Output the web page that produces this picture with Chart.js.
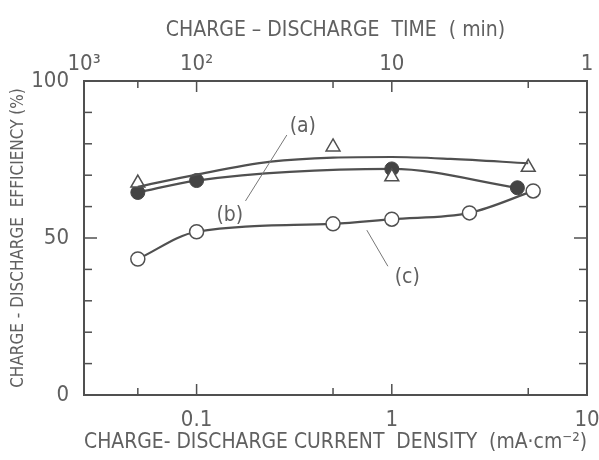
<!DOCTYPE html>
<html>
<head>
<meta charset="utf-8">
<script src="https://cdn.jsdelivr.net/npm/chart.js@4.4.0/dist/chart.umd.min.js"></script>
<style>
  html, body { margin: 0; padding: 0; background: #fff; }
  #wrap { width: 599px; height: 460px; }
</style>
</head>
<body>
<div id="wrap"><canvas id="grafica"></canvas></div>
<script>
// Valores

// eje inferior: densidad de corriente (mA/cm2)
const currentTicks = [0.05, 0.1, 0.5, 1, 5, 10];
const currentLabels = ['', '0.1', '', '1', '', '10'];
// eje superior: tiempo de carga-descarga (min), en posiciones de la escala de corriente
const timeTickAt = [0.0265, 0.1, 1, 10];
const timeLabels = ['10³', '10²', '10', '1'];
// eje y: eficiencia (%)
const effTicks = [0, 10, 20, 30, 40, 50, 60, 70, 80, 90, 100];
const effLabels = ['0', '', '', '', '', '50', '', '', '', '', '100'];

// (a) triángulos y su curva
const triCurrent = [0.05, 0.5, 1, 5];
const triEff = [67.5, 79, 69.5, 72.5];
const curveACurrent = [0.05, 0.1, 0.24, 0.5, 1, 2, 5];
const curveAEff = [66.3, 70.2, 74.3, 75.6, 75.8, 75.2, 73.8];

// (b) círculos rellenos
const filledCurrent = [0.05, 0.1, 1, 4.4];
const filledEff = [64.5, 68.3, 72, 66];

// (c) círculos abiertos
const openCurrent = [0.05, 0.1, 0.5, 1, 2.5, 5.3];
const openEff = [43.3, 52, 54.5, 56, 58, 65];

const pares = (xs, ys) => xs.map((x, i) => ({ x: x, y: ys[i] }));

const fam = "'DejaVu Sans Condensed', 'DejaVu Sans', sans-serif";
const gris = '#505050';
const textoGris = '#606060';

// marco, marcas hacia dentro y etiquetas (a) (b) (c)
const marcoPlugin = {
    id: 'marco',
    afterDraw(chart) {
        const { ctx, chartArea: a, scales } = chart;
        const sx = scales.x, sy = scales.y;
        ctx.save();
        ctx.strokeStyle = gris;
        ctx.lineWidth = 2;
        ctx.strokeRect(a.left, a.top, a.right - a.left, a.bottom - a.top);

        ctx.lineWidth = 1.5;
        const linea = (x1, y1, x2, y2) => {
            ctx.beginPath(); ctx.moveTo(x1, y1); ctx.lineTo(x2, y2); ctx.stroke();
        };
        currentTicks.forEach((v, i) => {
            const x = sx.getPixelForValue(v);
            const len = currentLabels[i] ? 11 : 7;
            linea(x, a.bottom, x, a.bottom - len);
            linea(x, a.top, x, a.top + len);
        });
        effTicks.forEach((v, i) => {
            const y = sy.getPixelForValue(v);
            const len = effLabels[i] ? 13 : 8;
            linea(a.left, y, a.left + len, y);
            linea(a.right, y, a.right - len, y);
        });

        // etiquetas de curvas con líneas guía
        ctx.lineWidth = 1;
        ctx.strokeStyle = '#777';
        const P = (cx, cy) => [sx.getPixelForValue(cx), sy.getPixelForValue(cy)];
        let p1 = P(0.29, 82.8), p2 = P(0.178, 61.8);
        linea(p1[0], p1[1], p2[0], p2[1]);
        p1 = P(0.745, 52.5); p2 = P(0.955, 41);
        linea(p1[0], p1[1], p2[0], p2[1]);

        ctx.fillStyle = textoGris;
        ctx.font = '21px ' + fam;
        ctx.textAlign = 'center';
        ctx.textBaseline = 'middle';
        let t = P(0.35, 85.4); ctx.fillText('(a)', t[0], t[1]);
        t = P(0.148, 57); ctx.fillText('(b)', t[0], t[1]);
        t = P(1.2, 37.3); ctx.fillText('(c)', t[0], t[1]);
        ctx.restore();
    }
};

const sinRelleno = (s) => { s.paddingLeft = 0; s.paddingRight = 0; };

const ctx1 = document.getElementById('grafica').getContext('2d');
const myChart1 = new Chart(ctx1, {
    type: 'scatter',
    data: {
        datasets: [
            {
                label: '(a) curva',
                data: pares(curveACurrent, curveAEff),
                showLine: true,
                borderColor: gris,
                borderWidth: 2.2,
                pointRadius: 0,
                cubicInterpolationMode: 'monotone',
                fill: false
            },
            {
                label: '(a)',
                data: pares(triCurrent, triEff),
                pointStyle: 'triangle',
                pointRadius: 8,
                pointBorderWidth: 1.5,
                pointBorderColor: gris,
                pointBackgroundColor: '#fff'
            },
            {
                label: '(b)',
                data: pares(filledCurrent, filledEff),
                showLine: true,
                borderColor: gris,
                borderWidth: 2.2,
                cubicInterpolationMode: 'monotone',
                pointRadius: 7,
                pointBorderWidth: 1,
                pointBorderColor: '#444',
                pointBackgroundColor: '#444'
            },
            {
                label: '(c)',
                data: pares(openCurrent, openEff),
                showLine: true,
                borderColor: gris,
                borderWidth: 2.2,
                cubicInterpolationMode: 'monotone',
                pointRadius: 7,
                pointBorderWidth: 1.5,
                pointBorderColor: gris,
                pointBackgroundColor: '#fff'
            }
        ]
    },
    options: {
        responsive: true,
        maintainAspectRatio: false,
        animation: false,
        layout: { padding: { left: 0, right: 12, top: 0, bottom: 0 } },
        plugins: {
            legend: { display: false },
            tooltip: { enabled: false }
        },
        scales: {
            x: {
                type: 'logarithmic',
                position: 'bottom',
                min: 0.0265,
                max: 10,
                grid: { display: false },
                border: { display: false },
                afterBuildTicks: (s) => { s.ticks = currentTicks.map(v => ({ value: v })); },
                afterFit: (s) => { s.height = 65; sinRelleno(s); },
                ticks: {
                    autoSkip: false,
                    maxRotation: 0,
                    padding: 4,
                    color: textoGris,
                    font: { family: fam, size: 22 },
                    callback: (v) => currentLabels[currentTicks.indexOf(v)] || ''
                },
                title: {
                    display: true,
                    text: 'CHARGE- DISCHARGE CURRENT  DENSITY  (mA·cm⁻²)',
                    color: textoGris,
                    font: { family: fam, size: 21 },
                    padding: { top: 0, bottom: 5 }
                }
            },
            x2: {
                type: 'logarithmic',
                position: 'top',
                min: 0.0265,
                max: 10,
                grid: { display: false },
                border: { display: false },
                afterBuildTicks: (s) => { s.ticks = timeTickAt.map(v => ({ value: v })); },
                afterFit: (s) => { s.height = 81; sinRelleno(s); },
                ticks: {
                    autoSkip: false,
                    maxRotation: 0,
                    padding: -4,
                    color: textoGris,
                    font: { family: fam, size: 22 },
                    callback: (v) => timeLabels[timeTickAt.indexOf(v)] || ''
                },
                title: {
                    display: true,
                    text: 'CHARGE – DISCHARGE  TIME  ( min)',
                    color: textoGris,
                    font: { family: fam, size: 21 },
                    padding: { top: 18, bottom: 0 }
                }
            },
            y: {
                type: 'linear',
                min: 0,
                max: 100,
                grid: { display: false },
                border: { display: false },
                afterBuildTicks: (s) => { s.ticks = effTicks.map(v => ({ value: v })); },
                afterFit: (s) => { s.width = 84; },
                ticks: {
                    autoSkip: false,
                    padding: 7,
                    color: textoGris,
                    font: { family: fam, size: 22 },
                    callback: (v) => effLabels[effTicks.indexOf(v)] || ''
                },
                title: {
                    display: true,
                    text: 'CHARGE - DISCHARGE  EFFICIENCY (%)',
                    color: textoGris,
                    font: { family: fam, size: 17 },
                    padding: { top: 8, bottom: 0 }
                }
            }
        }
    },
    plugins: [marcoPlugin]
});
</script>
</body>
</html>
